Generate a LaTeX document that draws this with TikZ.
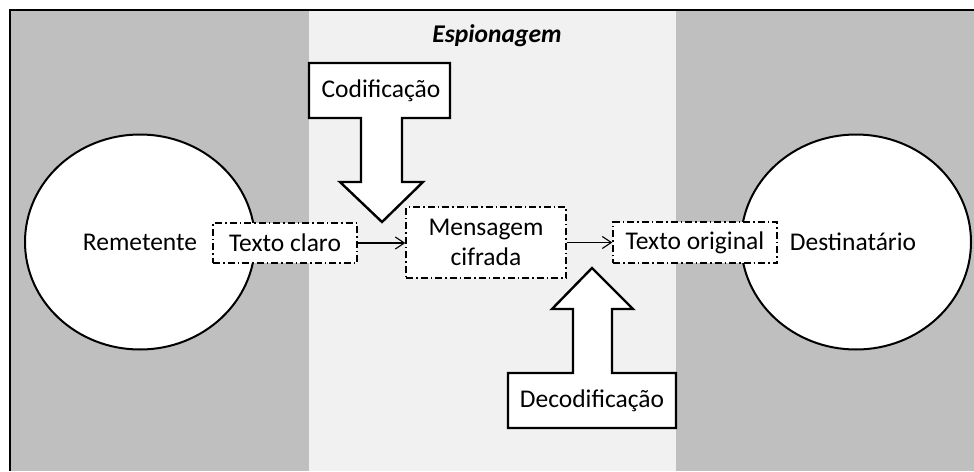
\documentclass[tikz,border=0pt]{standalone}
\usepackage{fontspec}
\setmainfont{Carlito}
\usetikzlibrary{arrows.meta,shapes.geometric}
\definecolor{bgdark}{RGB}{191,191,191}
\definecolor{bglight}{RGB}{241,241,241}
\begin{document}
\begin{tikzpicture}[x=1pt,y=-1pt,
  txt/.style={font=\fontsize{25.5}{30}\selectfont, inner sep=0pt},
  party/.style={ellipse, draw=black, line width=2pt, fill=white, minimum width=230pt, minimum height=215pt, inner sep=0pt, txt},
  msgbox/.style={draw=black, line width=1.4pt, fill=white, dash pattern=on 7pt off 3pt on 1.5pt off 3pt, inner sep=0pt, txt, align=center},
  flow/.style={line width=1.1pt, -{Straight Barb[length=9pt,width=12pt,line width=1.1pt]}},
  block/.style={draw=black, line width=2.4pt, fill=white, line join=miter}
]
\useasboundingbox (0,0) rectangle (974,471);
\fill[white] (0,0) rectangle (974,471);
\fill[bgdark] (10,10) rectangle (974,471);
\fill[bglight] (309,10) rectangle (676,471);
\draw[line width=2.5pt] (10,471) -- (10,10) -- (974,10);

\node[txt, font=\fontsize{25.5}{30}\selectfont\bfseries\itshape] (title) at (497,36) {Espionagem};

\node[party] (rem) at (140,242) {Remetente};
\node[party] (dest) at (856,242) {\hspace*{-6pt}Destinatário};

\node[msgbox, minimum width=144pt, minimum height=40pt] (claro) at (285,243) {Texto claro};
\node[msgbox, minimum width=160pt, minimum height=71pt] (cifra) at (486,242.5) {Mensagem\\cifrada};
\node[msgbox, minimum width=164pt, minimum height=41pt] (orig) at (695,242.5) {Texto original};

\draw[flow] (claro.east) -- (claro.east -| cifra.west);
\draw[flow] (cifra.east) -- (cifra.east -| orig.west);

\draw[block] (309,63) -- (450,63) -- (450,118) -- (402,118) -- (402,182) -- (423,182) -- (382,222) -- (340,182) -- (361,182) -- (361,118) -- (309,118) -- cycle;
\node[txt] (cod) at (381,91) {Codificação};

\draw[block] (508,428) -- (676,428) -- (676,373) -- (612,373) -- (612,309) -- (633,309) -- (592,268) -- (552,309) -- (573,309) -- (573,373) -- (508,373) -- cycle;
\node[txt] (dec) at (592,401) {Decodificação};
\end{tikzpicture}
\end{document}
